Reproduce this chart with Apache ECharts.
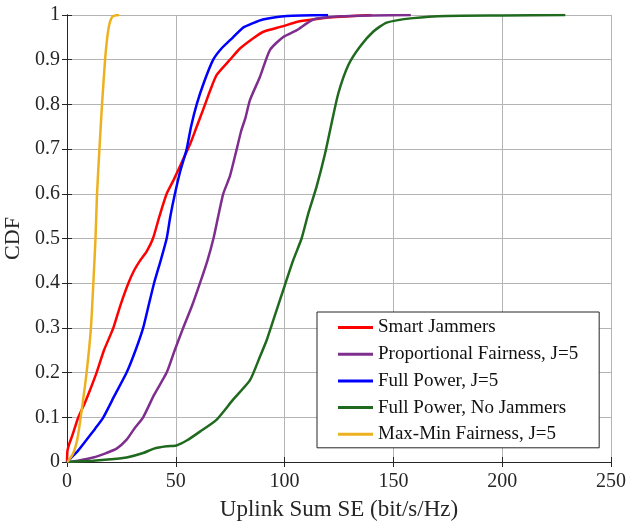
<!DOCTYPE html>
<html>
<head>
<meta charset="utf-8">
<script src="https://cdn.jsdelivr.net/npm/echarts@6/dist/echarts.min.js"></script>
<style>
  html, body { margin: 0; padding: 0; background: #fff; }
  #chart { width: 627px; height: 522px; }
</style>
</head>
<body>
<div id="chart"></div>
<script>
// CDF curves, [uplink sum SE, cdf]
var smartJammers = [[0,0],[0.2,0.025],[1,0.04],[2.5,0.06],[5.2,0.1],[8,0.13],[10.5,0.16],[13.6,0.2],[17,0.25],[21.3,0.3],[24.5,0.35],[28.2,0.4],[31,0.43],[33.5,0.45],[36.5,0.47],[39.5,0.5],[42.5,0.55],[45.8,0.6],[48.9,0.63],[52.7,0.67],[56.5,0.71],[59.6,0.75],[62.7,0.79],[65.7,0.83],[68.8,0.866],[74.9,0.9],[79.5,0.925],[85.6,0.948],[90,0.962],[99.4,0.975],[106,0.985],[113,0.99],[122,0.995],[131.5,0.998],[140,1]];
var propFair = [[0,0],[5,0.003],[12,0.01],[18,0.02],[22.8,0.03],[27.4,0.05],[31,0.075],[35,0.1],[40,0.15],[45.8,0.2],[49.5,0.25],[53.4,0.3],[57.5,0.35],[61.1,0.4],[64.5,0.45],[67.3,0.5],[69.5,0.55],[71.8,0.6],[74.9,0.64],[78,0.7],[80,0.74],[82,0.77],[84.1,0.81],[88.7,0.862],[93.3,0.922],[99.4,0.951],[105.6,0.966],[113.2,0.99],[125.5,0.997],[140,0.999],[158,1]];
var fullPower = [[0,0],[2,0.01],[5,0.025],[9,0.05],[13,0.075],[16.7,0.1],[22,0.15],[27.4,0.2],[31.5,0.25],[35,0.3],[37.5,0.35],[40,0.4],[43,0.45],[45.8,0.5],[47.5,0.55],[49.6,0.6],[52,0.65],[55,0.7],[57,0.75],[59.6,0.8],[63,0.85],[67.2,0.9],[71,0.925],[76.3,0.95],[81,0.972],[85.5,0.982],[90,0.99],[101,0.998],[120,1]];
var noJammers = [[0,0],[12,0.003],[20,0.006],[27.4,0.01],[35,0.02],[40,0.03],[45.8,0.035],[50.3,0.037],[55,0.048],[61.1,0.068],[68.8,0.095],[76.4,0.14],[84.1,0.183],[88.7,0.236],[91.8,0.273],[95,0.32],[99.4,0.385],[104,0.452],[107.8,0.5],[110.9,0.556],[114.7,0.616],[118.6,0.69],[121.6,0.758],[124.7,0.825],[129.3,0.888],[134.6,0.929],[140.8,0.963],[146.9,0.983],[159,0.993],[174.5,0.998],[200,0.999],[229,1]];
var maxMin = [[0,0],[0.5,0.002],[2.9,0.02],[4.7,0.05],[6.3,0.1],[9,0.2],[11,0.3],[12.1,0.4],[13.1,0.5],[13.8,0.6],[14.9,0.7],[16.1,0.8],[17.5,0.9],[18.5,0.95],[19.5,0.98],[21,0.997],[24,1]];

var names = ['Smart Jammers', 'Proportional Fairness, J=5', 'Full Power, J=5', 'Full Power, No Jammers', 'Max-Min Fairness, J=5'];
var curves = [smartJammers, propFair, fullPower, noJammers, maxMin];
var colors = ['#ff0000', '#7e2f8e', '#0000ff', '#1f6a1f', '#edb120'];

var font = 'Liberation Serif';
var axisCol = '#262626';

var chart = echarts.init(document.getElementById('chart'));

var boxAxis = {
  axisLine: {show: true, lineStyle: {color: axisCol, width: 1}},
  axisTick: {show: true, inside: true, length: 5, lineStyle: {color: axisCol}},
  axisLabel: {show: false},
  splitLine: {show: false}
};

chart.setOption({
  animation: false,
  color: colors,
  grid: {left: 67, right: 16, top: 15, bottom: 60, outerBoundsMode: 'none', containLabel: false},
  xAxis: [{
    type: 'value', min: 0, max: 250, interval: 50,
    name: 'Uplink Sum SE (bit/s/Hz)', nameLocation: 'middle', nameGap: 36,
    nameTextStyle: {fontFamily: font, fontSize: 23, color: axisCol},
    axisLine: {lineStyle: {color: axisCol}},
    axisTick: {inside: true, length: 5, lineStyle: {color: axisCol}},
    axisLabel: {fontFamily: font, fontSize: 20, color: axisCol, margin: 10},
    splitLine: {show: true, lineStyle: {color: '#b4b4b4', width: 1}}
  }, Object.assign({type: 'value', position: 'top', min: 0, max: 250, interval: 50}, boxAxis)],
  yAxis: [{
    type: 'value', min: 0, max: 1, interval: 0.1,
    name: 'CDF', nameLocation: 'middle', nameGap: 36,
    nameTextStyle: {fontFamily: font, fontSize: 22, color: axisCol},
    axisLine: {show: true, lineStyle: {color: axisCol}},
    axisTick: {show: true, inside: true, length: 5, lineStyle: {color: axisCol}},
    axisLabel: {fontFamily: font, fontSize: 20, color: axisCol, margin: 7},
    splitLine: {show: true, lineStyle: {color: '#b4b4b4', width: 1}}
  }, Object.assign({type: 'value', position: 'right', min: 0, max: 1, interval: 0.1}, boxAxis)],
  legend: {
    orient: 'vertical',
    left: 317, top: 312,
    padding: [6, 21, 4, 21],
    backgroundColor: '#fff',
    borderColor: axisCol, borderWidth: 1,
    itemWidth: 35, itemHeight: 3, itemGap: 7.7,
    icon: 'rect',
    textStyle: {fontFamily: font, fontSize: 19, color: '#111'},
    data: names
  },
  series: names.map(function (n, i) {
    return {
      name: n, type: 'line', data: curves[i],
      showSymbol: false, smooth: 0.2,
      lineStyle: {width: 2.5, color: colors[i]},
      itemStyle: {color: colors[i]}
    };
  })
});
</script>
</body>
</html>
